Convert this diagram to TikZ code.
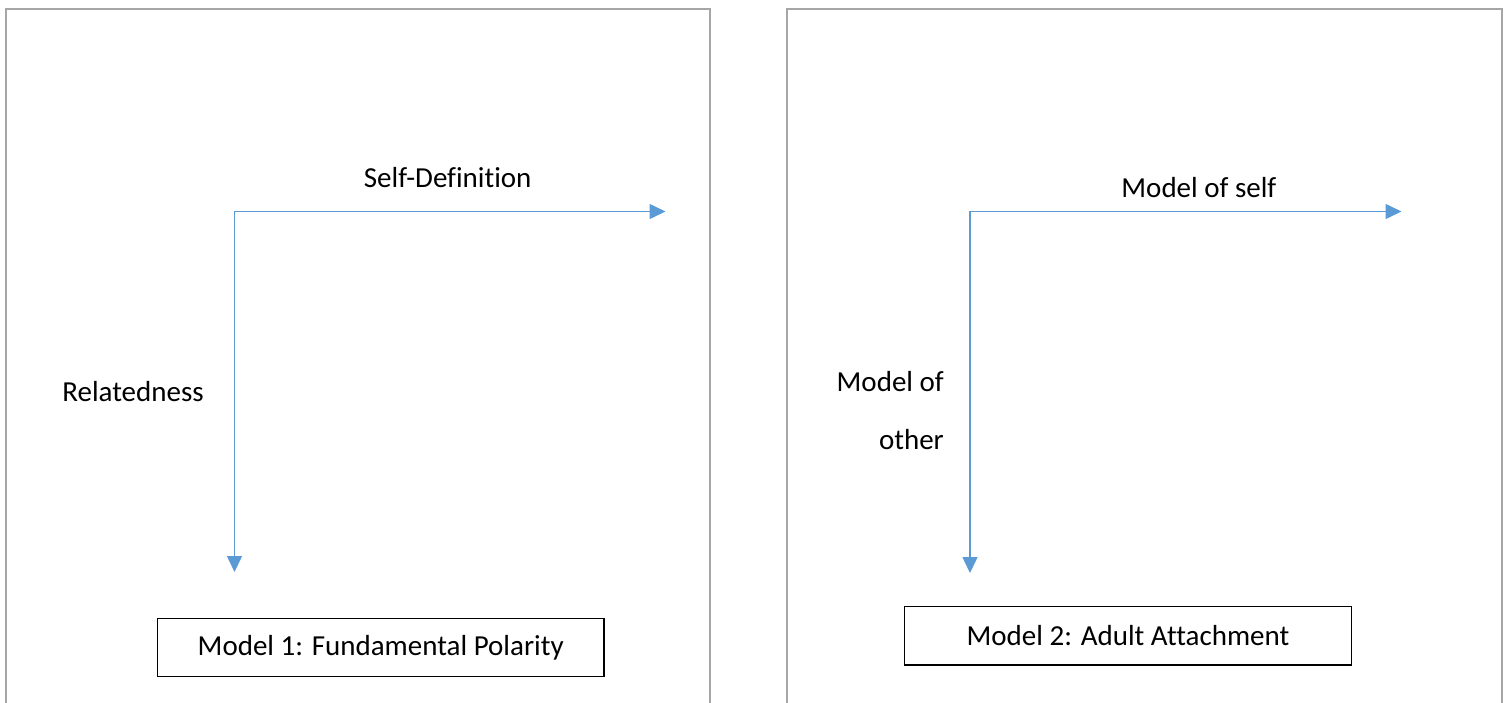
\documentclass[tikz,border=0pt]{standalone}
\usepackage{fontspec}
\setmainfont{Carlito}[Ligatures={NoCommon}]
\usetikzlibrary{arrows.meta}
\definecolor{framegray}{HTML}{A6A6A6}
\definecolor{axisblue}{HTML}{5B9BD5}
\tikzset{
  frameline/.style={draw=framegray, line width=2pt},
  axisline/.style={draw=axisblue, line width=1.5pt, {Triangle[length=16pt,width=15pt]}-{Triangle[length=16pt,width=15pt]}},
  lbl/.style={inner sep=0pt, font=\fontsize{29}{35}\selectfont},
  titlebox/.style={draw=black, line width=1.4pt, minimum width=446.5pt, minimum height=58.4pt, inner sep=0pt, font=\fontsize{29}{35}\selectfont}
}
\begin{document}
\begin{tikzpicture}[x=1pt,y=-1pt]
\useasboundingbox (0,0) rectangle (1505,702);
% frames
\draw[frameline] (6,705) -- (6,9) -- (710,9) -- (710,705);
\draw[frameline] (786.5,705) -- (786.5,9) -- (1502,9) -- (1502,705);
% model 1
\coordinate (c1) at (234.5,211.5);
\coordinate (h1) at (665.5,211.5);
\coordinate (v1) at (234.5,572);
\draw[axisline] (v1) -- (c1) -- (h1);
\node[lbl] (selfdef) at (447.7,178) {Self-Definition};
\node[lbl] (related) at (133,392) {Relatedness};
\node[titlebox] (box1) at (380.7,647.5) {Model 1: Fundamental Polarity};
% model 2
\coordinate (c2) at (970,211.5);
\coordinate (h2) at (1401.5,211.5);
\coordinate (v2) at (970,573);
\draw[axisline] (v2) -- (c2) -- (h2);
\node[lbl] (mself) at (1198.9,188) {Model of self};
\node[lbl, anchor=east] (mof) at (944,382) {Model of};
\node[lbl, anchor=east] (mother) at (944,440) {other};
\node[titlebox] (box2) at (1128,635.8) {Model 2: Adult Attachment};
\end{tikzpicture}
\end{document}
